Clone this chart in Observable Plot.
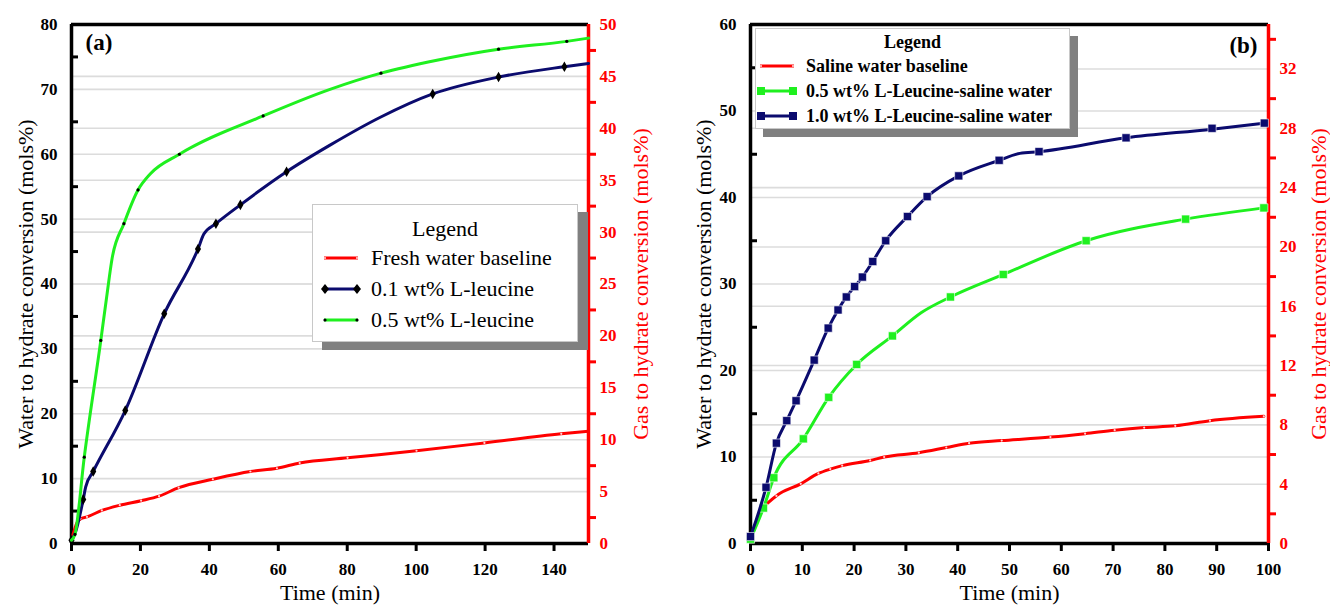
<!DOCTYPE html>
<html><head><meta charset="utf-8">
<script src="https://cdn.jsdelivr.net/npm/d3@7"></script>
<script src="https://cdn.jsdelivr.net/npm/@observablehq/plot@0.6"></script>
<style>
body{margin:0;background:#fff;font-family:"Liberation Serif","Times New Roman",serif;}
#wrap{position:relative;width:1330px;height:612px;overflow:hidden;}
.panel{position:absolute;top:0;}
.lg{position:absolute;background:#fff;border:1px solid #c8c8c8;}
.row{position:absolute;left:0;white-space:nowrap;display:flex;align-items:center;}
</style>
</head><body>
<div id="wrap">
  <div id="pa" class="panel" style="left:0"></div>
  <div id="pb" class="panel" style="left:665px"></div>
  <div id="lga" class="lg" style="left:312px;top:204px;width:264px;height:136px;box-shadow:10px 8px 0 #808080;font-size:22px;"></div>
  <div id="lgb" class="lg" style="left:755px;top:28px;width:313px;height:99px;box-shadow:8px 8px 0 #808080;font-size:18px;font-weight:bold;"></div>
</div>
<script>
// ---------- Panel (a) data ----------
const aXTicks = [0, 20, 40, 60, 80, 100, 120, 140];
const aLeftTicks = [0, 10, 20, 30, 40, 50, 60, 70, 80];
const aLeftMinor = [5, 15, 25, 35, 45, 55, 65, 75];
const aRightTicks = [0, 5, 10, 15, 20, 25, 30, 35, 40, 45, 50];
const aRightMinor = [2.5, 7.5, 12.5, 17.5, 22.5, 27.5, 32.5, 37.5, 42.5, 47.5];
const aXMax = 150, aLeftMax = 80, aRightMax = 50;

const aRedT = [0, 1.6, 2.6, 4.5, 8.8, 14, 20.2, 25.4, 31.1, 41, 51.9, 59.6, 66.2, 80.1, 100.1, 119.8, 142.1, 150];
const aRedV = [0.5, 3.2, 3.8, 4.1, 5.1, 5.9, 6.6, 7.3, 8.6, 9.9, 11.1, 11.6, 12.4, 13.2, 14.3, 15.5, 16.9, 17.3];

const aNavyT = [0, 1, 3.4, 4.1, 6.3, 15.6, 26.9, 36.7, 38.4, 41.9, 49, 62.4, 75, 89.6, 104.8, 123.9, 143, 150];
const aNavyV = [0.5, 1.5, 6.8, 8.7, 11.1, 20.5, 35.4, 45.4, 47.7, 49.3, 52.2, 57.3, 61.4, 65.7, 69.3, 71.9, 73.5, 74.0];
const aNavyMarkT = [0, 3.4, 6.3, 15.6, 26.9, 36.7, 41.9, 49, 62.4, 104.8, 123.9, 143];
const aNavyMarkV = [0.5, 6.8, 11.1, 20.5, 35.4, 45.4, 49.3, 52.2, 57.3, 69.3, 71.9, 73.5];

const aGreenT = [0, 1, 3.7, 8.5, 10.2, 11.8, 15.2, 19.3, 22.9, 31.3, 55.6, 75, 89.8, 106, 123.9, 143.7, 150];
const aGreenV = [0.5, 1.4, 13.3, 31.3, 38.0, 44.0, 49.3, 54.5, 57.0, 60.0, 65.9, 70.0, 72.5, 74.5, 76.2, 77.4, 77.9];
const aGreenMarkT = [1, 3.7, 8.5, 15.2, 19.3, 31.3, 55.6, 89.8, 123.9, 143.7];
const aGreenMarkV = [1.4, 13.3, 31.3, 49.3, 54.5, 60.0, 65.9, 72.5, 76.2, 77.4];

// ---------- Panel (b) data ----------
const bXTicks = [0, 10, 20, 30, 40, 50, 60, 70, 80, 90, 100];
const bLeftTicks = [0, 10, 20, 30, 40, 50, 60];
const bLeftMinor = [5, 15, 25, 35, 45, 55];
const bRightTicks = [0, 4, 8, 12, 16, 20, 24, 28, 32];
const bRightMinor = [2, 6, 10, 14, 18, 22, 26, 30, 34];
const bXMax = 100, bLeftMax = 60, bRightMax = 35;

const bRedT = [0, 2.2, 5.0, 9.7, 13.1, 15.4, 17.7, 23.1, 25.8, 32.5, 37.8, 42.2, 48.5, 57.9, 64.6, 70.3, 76.0, 82.0, 88.7, 99.1];
const bRedV = [0.5, 3.8, 5.5, 6.9, 8.1, 8.6, 9.0, 9.6, 10.0, 10.5, 11.1, 11.6, 11.9, 12.3, 12.7, 13.1, 13.4, 13.6, 14.2, 14.7];

const bGreenT = [0, 2.5, 4.5, 10.2, 15.1, 20.5, 27.4, 33.0, 38.6, 48.8, 64.8, 84.0, 99.1];
const bGreenV = [0.5, 4.1, 7.6, 12.1, 16.9, 20.7, 24.0, 26.7, 28.5, 31.1, 35.0, 37.5, 38.8];
const bGreenMarkT = [0, 2.5, 4.5, 10.2, 15.1, 20.5, 27.4, 38.6, 48.8, 64.8, 84.0, 99.1];
const bGreenMarkV = [0.5, 4.1, 7.6, 12.1, 16.9, 20.7, 24.0, 28.5, 31.1, 35.0, 37.5, 38.8];

const bNavyT = [0, 3.0, 5.0, 7.0, 8.8, 12.3, 15.0, 16.9, 18.5, 20.1, 21.6, 23.6, 26.1, 30.3, 34.1, 40.2, 48.0, 52.0, 55.7, 72.5, 89.1, 99.2];
const bNavyV = [0.8, 6.5, 11.6, 14.2, 16.5, 21.2, 24.9, 27.0, 28.5, 29.7, 30.8, 32.6, 35.0, 37.8, 40.1, 42.5, 44.3, 45.1, 45.3, 46.9, 47.9, 48.6];
const bNavyMarkT = [0, 3.0, 5.0, 7.0, 8.8, 12.3, 15.0, 16.9, 18.5, 20.1, 21.6, 23.6, 26.1, 30.3, 34.1, 40.2, 48.0, 55.7, 72.5, 89.1, 99.2];
const bNavyMarkV = [0.8, 6.5, 11.6, 14.2, 16.5, 21.2, 24.9, 27.0, 28.5, 29.7, 30.8, 32.6, 35.0, 37.8, 40.1, 42.5, 44.3, 45.3, 46.9, 48.0, 48.6];

const RED = "#ff0000", NAVY = "#0b0b6e", GREEN = "#1ff01f", GRID = "#dcdcdc";
const FONT = "Liberation Serif";

const zip = (t, v) => t.map((x, i) => ({t: x, v: v[i]}));

function panel(o) {
  const toLeft = d => d * o.leftMax / o.rightMax;
  const toRight = d => Math.round(d * o.rightMax / o.leftMax * 10) / 10;
  const f = {fontFamily: FONT};
  return Plot.plot({
    width: 665, height: 612,
    marginLeft: o.ml, marginRight: o.mr, marginTop: 24, marginBottom: 69,
    x: {domain: [0, o.xMax]},
    y: {domain: [0, o.leftMax]},
    style: {fontFamily: FONT, fontSize: "17px", fontWeight: "bold", color: "black", background: "transparent", overflow: "visible"},
    marks: [
      Plot.gridY(o.leftTicks.filter(d => d > 0 && d < o.leftMax), {stroke: GRID, strokeOpacity: 1, strokeWidth: 1.6}),
      Plot.gridY(o.rightTicks.filter(d => d > 0).map(toLeft), {stroke: GRID, strokeOpacity: 1, strokeWidth: 1.6}),
      Plot.axisX({...f, ticks: o.xTicks, tickSize: 8, tickPadding: 11, strokeWidth: 3, label: null}),
      Plot.axisY({...f, ticks: o.leftTicks, tickSize: 0, tickPadding: 14, label: null}),
      Plot.axisY({ticks: o.leftMinor, tickSize: 7, dx: 7, strokeWidth: 3, tickFormat: () => "", label: null}),
      Plot.axisY({...f, anchor: "right", ticks: o.rightTicks.map(toLeft), tickFormat: toRight, tickSize: 0, tickPadding: 11, color: RED, label: null}),
      Plot.axisY({anchor: "right", ticks: o.rightMinor.map(toLeft), tickSize: 7, strokeWidth: 3, tickFormat: () => "", color: RED, label: null}),
      Plot.ruleY([o.leftMax], {stroke: "black", strokeWidth: 3.5}),
      Plot.ruleY([0], {stroke: "black", strokeWidth: 3.5}),
      Plot.ruleX([0], {stroke: "black", strokeWidth: 3.5}),
      Plot.ruleX([o.xMax], {stroke: RED, strokeWidth: 3.5}),
      ...o.series,
      Plot.text(["Water to hydrate conversion (mols%)"], {...f, frameAnchor: "left", textAnchor: "middle", rotate: -90, dx: o.ltDx, fontSize: 22, fontWeight: "normal", fill: "black"}),
      Plot.text(["Gas to hydrate conversion (mols%)"], {...f, frameAnchor: "right", textAnchor: "middle", rotate: -90, dx: o.rtDx, fontSize: 22, fontWeight: "normal", fill: RED}),
      Plot.text(["Time (min)"], {...f, frameAnchor: "bottom", textAnchor: "middle", dy: 56, fontSize: 22, fontWeight: "normal", fill: "black"}),
      Plot.text([o.tag], {...f, frameAnchor: o.tagAnchor, textAnchor: o.tagAnchor === "top-left" ? "start" : "end", lineAnchor: "top", dx: o.tagDx, dy: o.tagDy, fontSize: 23, fontWeight: "bold"})
    ]
  });
}

const seriesA = [
  Plot.line(zip(aRedT, aRedV), {x: "t", y: "v", stroke: RED, strokeWidth: 3, curve: "monotone-x"}),
  Plot.dot(zip(aRedT.slice(1, -1), aRedV.slice(1, -1)), {x: "t", y: "v", r: 1.1, fill: "#ffd0d0"}),
  Plot.line(zip(aNavyT, aNavyV), {x: "t", y: "v", stroke: NAVY, strokeWidth: 3, curve: "monotone-x"}),
  Plot.dot(zip(aNavyMarkT, aNavyMarkV), {x: "t", y: "v", symbol: "diamond", r: 3.2, fill: "black"}),
  Plot.line(zip(aGreenT, aGreenV), {x: "t", y: "v", stroke: GREEN, strokeWidth: 3, curve: "monotone-x"}),
  Plot.dot(zip(aGreenMarkT, aGreenMarkV), {x: "t", y: "v", r: 1.6, fill: "black"})
];
const seriesB = [
  Plot.line(zip(bRedT, bRedV), {x: "t", y: "v", stroke: RED, strokeWidth: 3, curve: "monotone-x"}),
  Plot.dot(zip(bRedT.slice(1), bRedV.slice(1)), {x: "t", y: "v", r: 1.1, fill: "#ffd0d0"}),
  Plot.line(zip(bGreenT, bGreenV), {x: "t", y: "v", stroke: GREEN, strokeWidth: 3, curve: "monotone-x"}),
  Plot.dot(zip(bGreenMarkT, bGreenMarkV), {x: "t", y: "v", symbol: "square", r: 4.6, fill: GREEN, stroke: "white", strokeWidth: 0.6}),
  Plot.line(zip(bNavyT, bNavyV), {x: "t", y: "v", stroke: NAVY, strokeWidth: 3, curve: "monotone-x"}),
  Plot.dot(zip(bNavyMarkT, bNavyMarkV), {x: "t", y: "v", symbol: "square", r: 4.6, fill: NAVY, stroke: "white", strokeWidth: 0.6})
];

const svgA = panel({
  xMax: aXMax, leftMax: aLeftMax, rightMax: aRightMax,
  xTicks: aXTicks, leftTicks: aLeftTicks, leftMinor: aLeftMinor, rightTicks: aRightTicks, rightMinor: aRightMinor,
  ml: 71, mr: 77, ltDx: -46, rtDx: 52, tag: "(a)", tagAnchor: "top-left", tagDx: 14, tagDy: 9, series: seriesA
});
const svgB = panel({
  xMax: bXMax, leftMax: bLeftMax, rightMax: bRightMax,
  xTicks: bXTicks, leftTicks: bLeftTicks, leftMinor: bLeftMinor, rightTicks: bRightTicks, rightMinor: bRightMinor,
  ml: 85, mr: 62, ltDx: -47, rtDx: 50, tag: "(b)", tagAnchor: "top-right", tagDx: -11, tagDy: 12, series: seriesB
});
document.getElementById("pa").append(svgA);
document.getElementById("pb").append(svgB);

// ---------- Legends ----------
const legendA = ["Fresh water baseline", "0.1 wt% L-leucine", "0.5 wt% L-leucine"];
const legendB = ["Saline water baseline", "0.5 wt% L-Leucine-saline water", "1.0 wt% L-Leucine-saline water"];

function swatch(color, marker, mColor, w) {
  const m = (x) => marker === "square" ? `<rect x="${x-4}" y="3" width="8" height="8" fill="${mColor}"/>`
    : marker === "diamond" ? `<path d="M${x},2 L${x+4},7 L${x},12 L${x-4},7Z" fill="${mColor}"/>`
    : marker === "dot" ? `<circle cx="${x}" cy="7" r="1.6" fill="${mColor}"/>`
    : `<circle cx="${x}" cy="7" r="1.1" fill="#ffd0d0"/>`;
  return `<svg width="${w}" height="14" style="display:block"><line x1="3" x2="${w-3}" y1="7" y2="7" stroke="${color}" stroke-width="3"/>${m(4)}${m(w-4)}</svg>`;
}
function buildLegend(id, labels, specs, opts) {
  const el = document.getElementById(id);
  el.innerHTML = `<div style="position:absolute;left:0;right:0;top:${opts.titleTop}px;text-align:center;line-height:1">Legend</div>` +
    labels.map((lab, i) => `<div class="row" style="left:${opts.swLeft}px;top:${opts.rowTop + i * opts.rowStep}px;height:${opts.rowH}px;line-height:1">` +
      swatch(specs[i][0], specs[i][1], specs[i][2], opts.swW) + `<span style="margin-left:${opts.gap}px">${lab}</span></div>`).join("");
}
buildLegend("lga", legendA, [[RED, "plus", RED], [NAVY, "diamond", "black"], [GREEN, "dot", "black"]],
  {titleTop: 13, swLeft: 8, swW: 40, gap: 10, rowTop: 41, rowStep: 31, rowH: 24});
buildLegend("lgb", legendB, [[RED, "plus", RED], [GREEN, "square", GREEN], [NAVY, "square", NAVY]],
  {titleTop: 4, swLeft: 1, swW: 40, gap: 9, rowTop: 27, rowStep: 25, rowH: 20});
</script>
</body></html>
